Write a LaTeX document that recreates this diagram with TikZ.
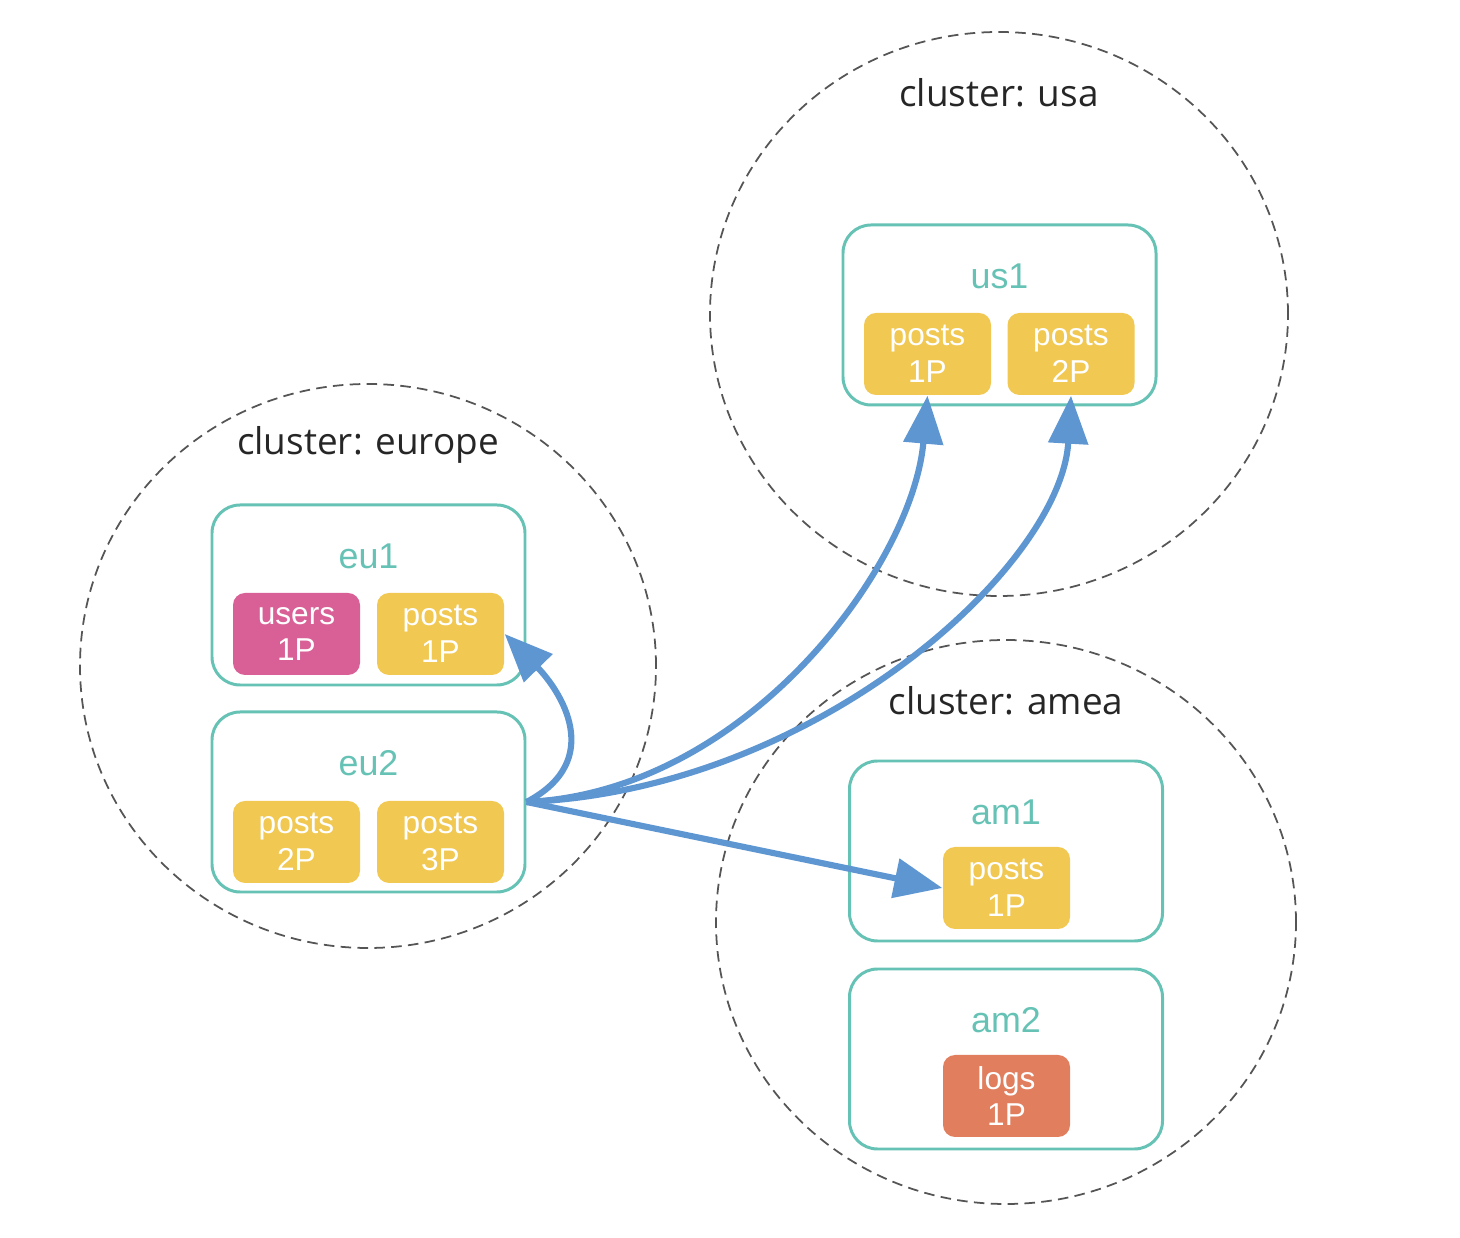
\documentclass[tikz,border=0pt]{standalone}
\usepackage{fontspec}
\newfontfamily\clusterfont{Open Sans}
\newfontfamily\boxfont{Liberation Sans}
\usepackage{tikz}
\usetikzlibrary{calc,arrows.meta}

\definecolor{nodeteal}{HTML}{66C2B5}
\definecolor{partyellow}{HTML}{F0C852}
\definecolor{partpink}{HTML}{D96096}
\definecolor{partorange}{HTML}{E07E5E}
\definecolor{flowblue}{HTML}{5E96D2}
\definecolor{ringgray}{HTML}{555555}

\begin{document}
\begin{tikzpicture}[
    ring/.style={draw=ringgray, line width=0.5pt, dash pattern=on 3pt off 1.8pt},
    ringlabel/.style={font=\clusterfont\fontsize{10.5}{12}\selectfont, text=black!85},
    server/.style={draw=nodeteal, line width=0.85pt, rounded corners=2.8mm,
        minimum width=3.13cm, minimum height=1.8cm},
    serverlabel/.style={font=\boxfont\fontsize{10.2}{12}\selectfont, text=nodeteal, below},
    part/.style={rounded corners=1.2mm, minimum width=1.27cm, minimum height=0.82cm,
        inner sep=0pt, align=center, text=white,
        font=\boxfont\fontsize{9}{10.5}\selectfont},
    flow/.style={draw=flowblue, line width=1.75pt, -{Triangle[length=4.8mm,width=3.9mm]}}
]
    \useasboundingbox (0,0) rectangle (14.6,12.38);

    % clusters
    \draw[ring] (3.68,5.72) ellipse (2.88 and 2.82);
    \draw[ring] (9.99,9.24) ellipse (2.89 and 2.82);
    \draw[ring] (10.06,3.16) ellipse (2.9 and 2.82);
    \node[ringlabel] (europe) at (3.68,7.93) {cluster: europe};
    \node[ringlabel] (usa) at (9.99,11.45) {cluster: usa};
    \node[ringlabel] (amea) at (10.06,5.37) {cluster: amea};

    % servers
    \node[server] (eu1) at (3.685,6.43) {};
    \node[server] (eu2) at (3.685,4.36) {};
    \node[server] (us1) at (9.995,9.23) {};
    \node[server] (am1) at (10.06,3.87) {};
    \node[server] (am2) at (10.06,1.79) {};
    \foreach \s in {eu1,eu2,us1,am1,am2}
        \node[serverlabel] (\s-name) at ($(\s.north)+(0,-0.28)$) {\s};

    % partitions
    \node[part, fill=partpink] (eu1-users) at (2.965,6.04) {users\\1P};
    \node[part, fill=partyellow] (eu1-posts) at (4.405,6.04) {posts\\1P};
    \node[part, fill=partyellow] (eu2-posts2) at (2.965,3.96) {posts\\2P};
    \node[part, fill=partyellow] (eu2-posts3) at (4.405,3.96) {posts\\3P};
    \node[part, fill=partyellow] (us1-posts1) at (9.275,8.84) {posts\\1P};
    \node[part, fill=partyellow] (us1-posts2) at (10.71,8.84) {posts\\2P};
    \node[part, fill=partyellow] (am1-posts) at (10.065,3.50) {posts\\1P};
    \node[part, fill=partorange] (am2-logs) at (10.065,1.42) {logs\\1P};

    % replication
    \draw[flow] (eu2.east) .. controls +(0.8,0.42) and +(0.55,-0.56) .. (eu1-posts.east);
    \draw[flow] (eu2.east) .. controls +(2.2,0.1) and +(-0.15,-1.7) .. (us1-posts1.south);
    \draw[flow] (eu2.east) .. controls +(2.9,0.12) and +(-0.1,-1.7) .. (us1-posts2.south);
    \draw[flow] (eu2.east) -- (am1-posts.west);
\end{tikzpicture}
\end{document}
